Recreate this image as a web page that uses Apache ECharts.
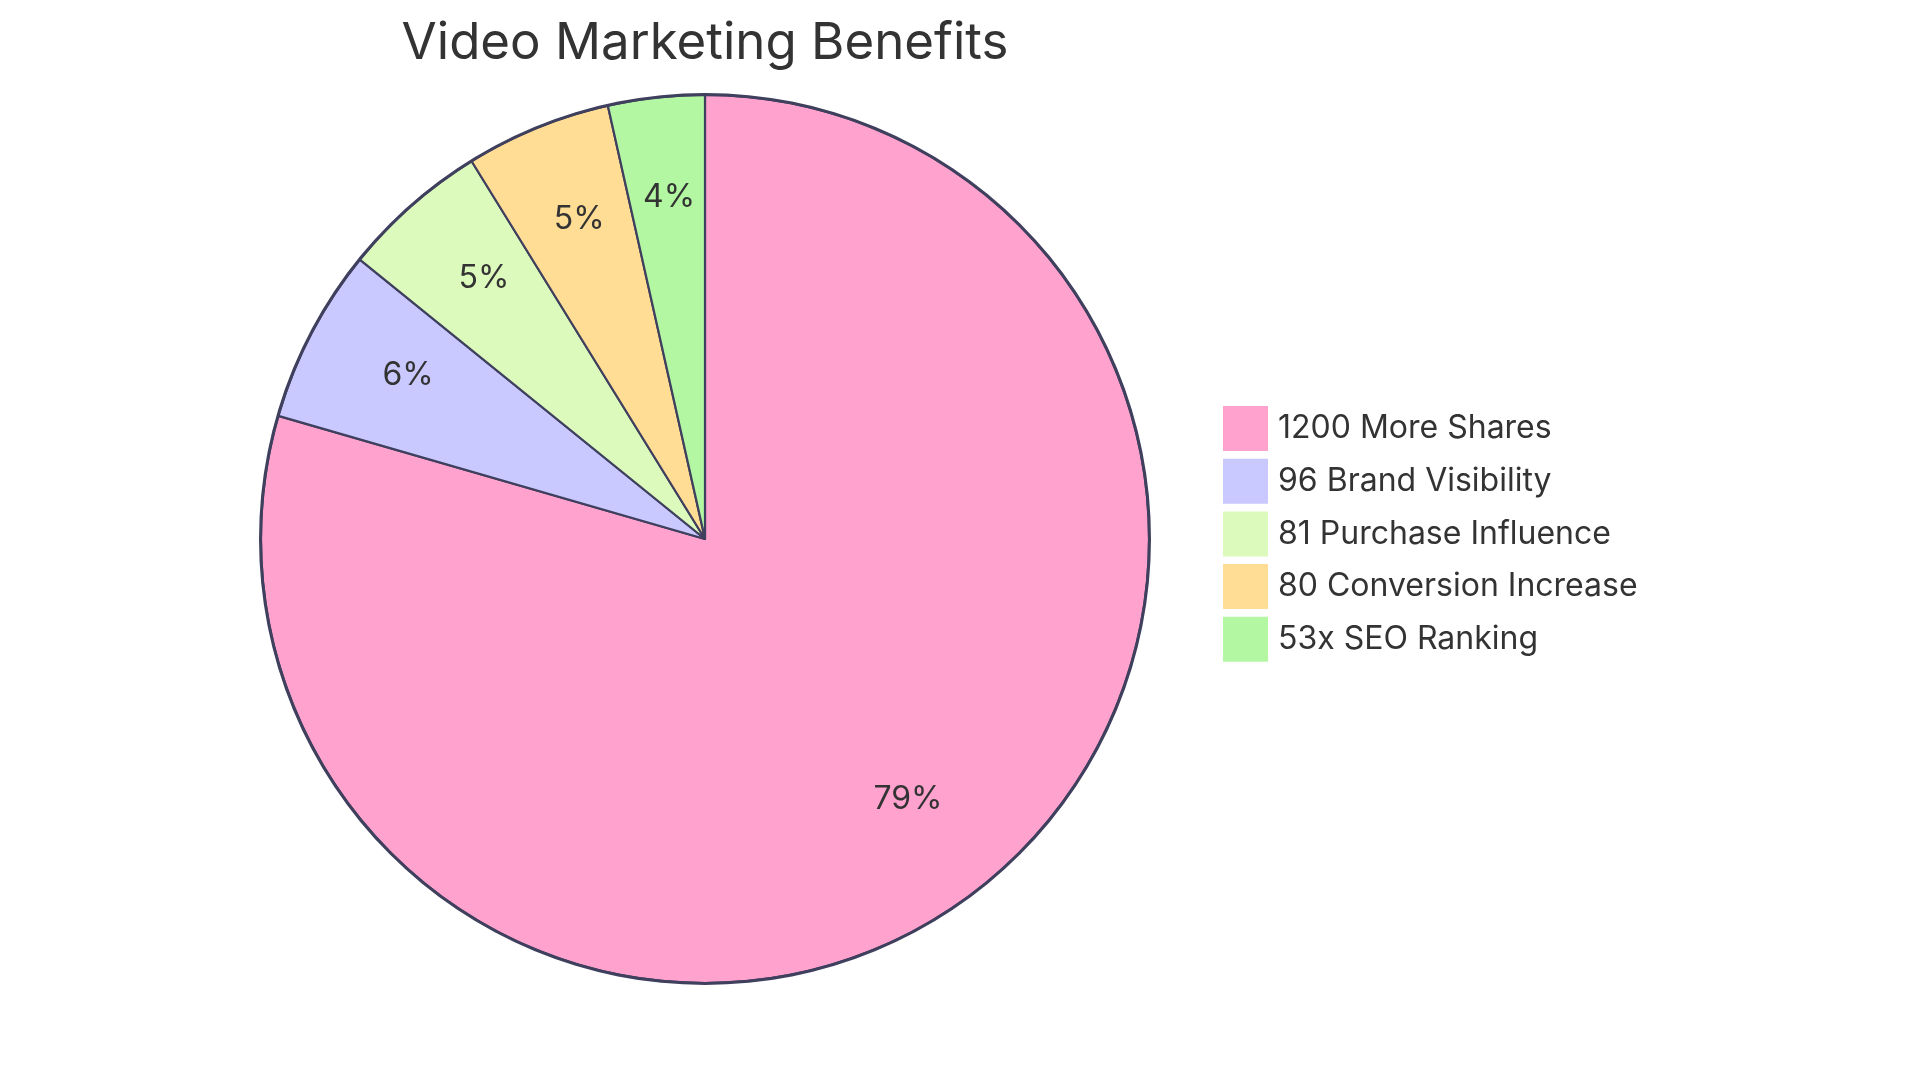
<!DOCTYPE html>
<html>
<head>
	<meta charset="utf-8" />
	<title>Video Marketing Benefits</title>
	<script type="text/javascript" src="https://cdn.jsdelivr.net/npm/echarts@6/dist/echarts.min.js"></script>
	<style>
		html, body {margin:0;padding:0;height:100%;background:#fff;}
		#chart {width:1920px;height:1083px;}
	</style>
</head>
<body>
	<div id="chart"></div>
	<script>
		var categories = ['1200 More Shares', '96 Brand Visibility', '81 Purchase Influence', '80 Conversion Increase', '53x SEO Ranking'];
		var values = [1200, 96, 81, 80, 53];
		var colors = ['#FFA3CE', '#C9C9FF', '#DDFABD', '#FFDD95', '#B3F7A3'];

		var center = [705, 539];
		var radius = 444;
		var font = 'Inter, "Noto Sans", sans-serif';

		var total = values.reduce((a, b) => a + b, 0);
		var pieData = categories.map((name, i) => ({
			name: name,
			value: values[i],
			itemStyle: {color: colors[i]}
		}));

		var chart = echarts.init(document.getElementById('chart'));

		var option = {
			animation: false,
			textStyle: {fontFamily: font},
			title: {
				text: 'Video Marketing Benefits',
				left: center[0],
				top: 18,
				padding: 0,
				textAlign: 'center',
				textStyle: {
					fontFamily: font,
					fontSize: 51,
					fontWeight: 'normal',
					color: '#333'
				}
			},
			legend: {
				orient: 'vertical',
				left: 1223,
				top: 406,
				padding: 0,
				itemWidth: 45,
				itemHeight: 45,
				itemGap: 7.7,
				icon: 'rect',
				selectedMode: false,
				data: categories,
				itemStyle: {borderWidth: 0},
				textStyle: {
					fontFamily: font,
					fontSize: 32,
					lineHeight: 45,
					color: '#333',
					padding: [0, 0, 0, 5]
				}
			},
			series: [
				{
					// 조각
					type: 'pie',
					center: center,
					radius: [0, radius],
					startAngle: 90,
					clockwise: true,
					label: {show: false},
					labelLine: {show: false},
					silent: true,
					itemStyle: {borderColor: '#3F3F5E', borderWidth: 2.2},
					data: pieData
				},
				{
					// 외곽선
					type: 'pie',
					center: center,
					radius: [radius - 1, radius + 2],
					silent: true,
					label: {show: false},
					legendHoverLink: false,
					itemStyle: {color: '#3F3F5E', borderWidth: 0},
					data: [{name: 'outline', value: 1}]
				},
				{
					// 퍼센트 라벨 (반지름 0.75 위치)
					type: 'pie',
					center: center,
					radius: [radius * 0.5, radius],
					startAngle: 90,
					silent: true,
					legendHoverLink: false,
					itemStyle: {color: 'transparent', borderWidth: 0},
					label: {
						show: true,
						position: 'inside',
						offset: [1, -8],
						fontFamily: font,
						fontSize: 32,
						color: '#333',
						formatter: p => Math.round(p.value / total * 100) + '%'
					},
					labelLine: {show: false},
					data: categories.map((name, i) => ({name: name + ' ', value: values[i]}))
				}
			]
		};

		chart.setOption(option);
	</script>
</body>
</html>
